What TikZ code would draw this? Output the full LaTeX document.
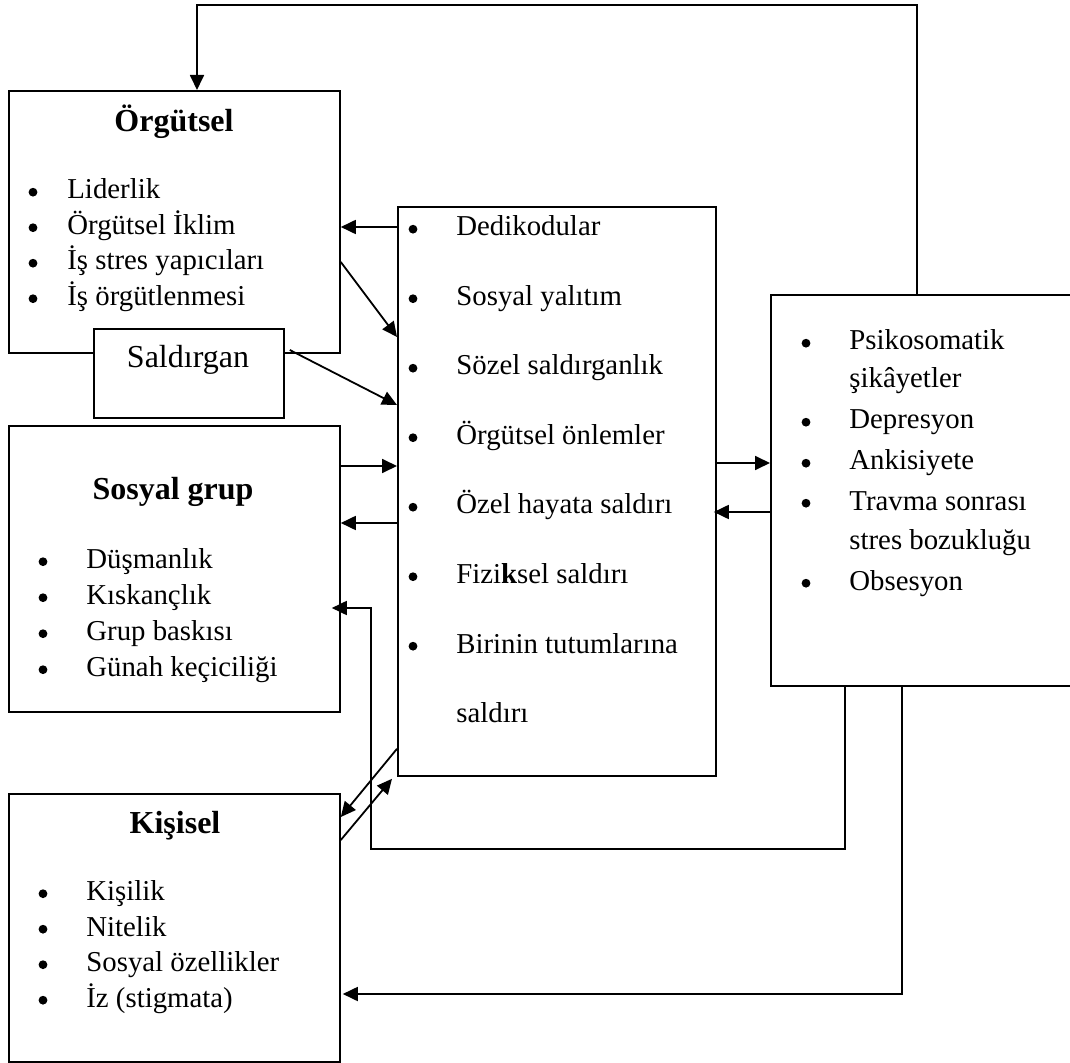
\documentclass[tikz,border=0pt]{standalone}
\usepackage{fontspec}
\setmainfont{Liberation Serif}
\usetikzlibrary{calc,arrows.meta}

\begin{document}
\begin{tikzpicture}[x=0.5pt,y=-0.5pt,font=\fontsize{14.4}{17}\selectfont,
box/.style={draw,line width=0.9pt,anchor=north west,inner sep=0pt},
arr/.style={line width=0.9pt,-{Triangle[length=7.5pt,width=7pt]}},
itm/.style={anchor=base west,inner sep=0pt},
bul/.style={circle,fill,inner sep=0pt,minimum size=4.4pt,yshift=3.4pt},
ttl/.style={anchor=base,inner sep=0pt,font=\fontsize{16}{19}\selectfont\bfseries}]
\useasboundingbox (0,0) rectangle (1070,1063);

\node[box,minimum width=165.5pt,minimum height=131pt] (org) at (8,90) {};
\node[box,fill=white,minimum width=95pt,minimum height=44.5pt] (sald) at (93,328) {};
\node[box,minimum width=159pt,minimum height=284.5pt] (mid) at (397,206) {};
\node[box,minimum width=165.5pt,minimum height=143pt] (soc) at (8,425) {};
\node[box,minimum width=165.5pt,minimum height=134pt] (kis) at (8,793) {};
\node[box,minimum width=155pt,minimum height=195.5pt] (sym) at (770,294) {};

\node[ttl] (org-t) at (174,132) {Örgütsel};
\node[anchor=base,inner sep=0pt,font=\fontsize{16}{19}\selectfont] (sald-t) at (188,368) {Saldırgan};
\node[ttl] (soc-t) at (173,500) {Sosyal grup};
\node[ttl] (kis-t) at (175,833) {Kişisel};

\foreach \t [count=\i, evaluate=\i as \y using 163.5+35.5*\i] in {Liderlik, Örgütsel İklim, İş stres yapıcıları, İş örgütlenmesi}
{\node[bul] (org-b\i) at (33,\y) {}; \node[itm] (org-\i) at (67,\y) {\t};}
\foreach \t [count=\i, evaluate=\i as \y using 532.5+36*\i] in {Düşmanlık, Kıskançlık, Grup baskısı, Günah keçiciliği}
{\node[bul] (soc-b\i) at (43,\y) {}; \node[itm] (soc-\i) at (86,\y) {\t};}
\foreach \t [count=\i, evaluate=\i as \y using 865+35.5*\i] in {Kişilik, Nitelik, Sosyal özellikler, İz (stigmata)}
{\node[bul] (kis-b\i) at (43,\y) {}; \node[itm] (kis-\i) at (86,\y) {\t};}
\foreach \t [count=\i, evaluate=\i as \y using 166.5+69.5*\i] in {Dedikodular, Sosyal yalıtım, Sözel saldırganlık, Örgütsel önlemler, Özel hayata saldırı, Fizi\textbf{k}sel saldırı, Birinin tutumlarına}
{\node[bul] (mid-b\i) at (413,\y) {}; \node[itm] (mid-\i) at (456,\y) {\t};}
\node[itm] (mid-8) at (456,722.5) {saldırı};

\node[bul] (sym-b1) at (806,350) {};
\node[itm] (sym-1) at (849,350) {Psikosomatik};
\node[itm] (sym-2) at (849,388) {şikâyetler};
\node[bul] (sym-b3) at (806,429) {};
\node[itm] (sym-3) at (849,429) {Depresyon};
\node[bul] (sym-b4) at (806,470) {};
\node[itm] (sym-4) at (849,470) {Ankisiyete};
\node[bul] (sym-b5) at (806,510) {};
\node[itm] (sym-5) at (849,510) {Travma sonrası};
\node[itm] (sym-6) at (849,549) {stres bozukluğu};
\node[bul] (sym-b7) at (806,590) {};
\node[itm] (sym-7) at (849,590) {Obsesyon};

\draw[arr] ($(sym.north west)+(147,0)$) |- ($(org.north west)+(189,-85)$) -- ($(org.north west)+(189,0)$);
\draw[arr] ($(mid.north west)+(0,21)$) -- ($(org.north east)+(0,137)$);
\draw[arr] ($(org.north east)+(0,172)$) -- ($(mid.north west)+(0,131)$);
\draw[arr] ($(sald.north east)+(5,22)$) -- ($(mid.north west)+(0,199)$);
\draw[arr] ($(soc.north east)+(0,41)$) -- ($(mid.north west)+(0,260)$);
\draw[arr] ($(mid.north west)+(0,317)$) -- ($(soc.north east)+(0,98)$);
\draw[arr] ($(mid.north east)+(-2,257)$) -- ($(sym.north west)+(0,169)$);
\draw[arr] ($(sym.north west)+(0,218)$) -- ($(mid.north east)+(-3,306)$);
\draw[arr] ($(sym.south west)+(75,0)$) |- ($(kis.north east)+(30,56)$) |- ($(soc.north east)+(-9,183)$);
\draw[arr] ($(sym.south west)+(132,0)$) |- ($(kis.north east)+(2,201)$);
\draw[arr] ($(mid.south west)+(0,-28)$) -- ($(kis.north east)+(0,24)$);
\draw[arr] ($(kis.north east)+(0,47)$) -- ($(mid.south west)+(-5,2)$);
\end{tikzpicture}
\end{document}
